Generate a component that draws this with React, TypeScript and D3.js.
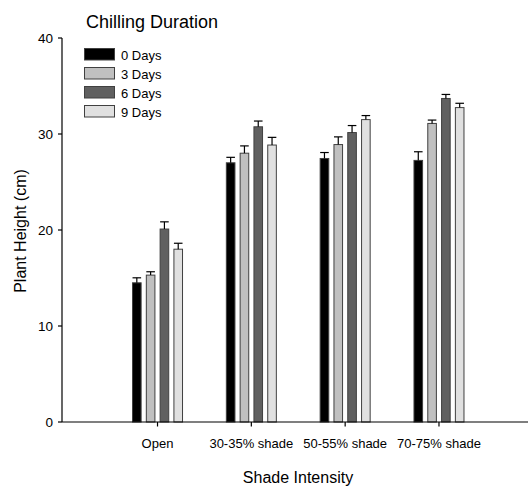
import React from "react";
import * as d3 from "d3";

const categories = ["Open", "30-35% shade", "50-55% shade", "70-75% shade"];
const seriesNames = ["0 Days", "3 Days", "6 Days", "9 Days"];
const days0 = [14.5, 27.0, 27.45, 27.25];
const days3 = [15.3, 28.0, 28.9, 31.1];
const days6 = [20.1, 30.75, 30.15, 33.7];
const days9 = [18.0, 28.85, 31.5, 32.75];
const err0 = [0.52, 0.57, 0.62, 0.9];
const err3 = [0.35, 0.76, 0.8, 0.35];
const err6 = [0.75, 0.6, 0.73, 0.42];
const err9 = [0.62, 0.8, 0.42, 0.45];
const yTicks = [0, 10, 20, 30, 40];
const fills = ["#000000", "#c0c0c0", "#606060", "#e0e0e0"];

const values = [days0, days3, days6, days9];
const errors = [err0, err3, err6, err9];

const FONT = "'Liberation Sans', Arial, Helvetica, sans-serif";

export default function App() {
  const W = 528;
  const H = 488;
  const x = d3.scaleLinear().domain([0, 5]).range([63.7, 532.8]);
  const y = d3.scaleLinear().domain([0, 40]).range([422, 38]);
  const pitch = 13.8;
  const bw = 8.6;
  const offsets = seriesNames.map((_, i) => (i - 1.5) * pitch);

  return (
    <svg
      width={W}
      height={H}
      style={{ position: "absolute", left: 0, top: 0, background: "#fff" }}
      fontFamily={FONT}
    >
      <rect x={0} y={0} width={W} height={H} fill="#fff" />
      {/* title */}
      <text x={86} y={28} fontSize={18} fill="#000">Chilling Duration</text>

      {/* legend */}
      {seriesNames.map((s, i) => {
        const ly = 48.5 + i * 19;
        return (
          <g key={s}>
            <rect x={84.5} y={ly} width={30} height={11.5} fill={fills[i]} stroke="#404040" strokeWidth={1} />
            <text x={121} y={ly + 11.5} fontSize={13} fill="#000">{s}</text>
          </g>
        );
      })}

      {/* bars */}
      {categories.map((c, ci) => (
        <g key={c}>
          {values.map((vals, si) => {
            const cx = x(ci + 1) + offsets[si];
            const v = vals[ci];
            const e = errors[si][ci];
            return (
              <g key={si}>
                <rect
                  x={cx - bw / 2}
                  y={y(v)}
                  width={bw}
                  height={y(0) - y(v)}
                  fill={fills[si]}
                  stroke="#404040"
                  strokeWidth={1}
                />
                <line x1={cx} x2={cx} y1={y(v)} y2={y(v + e)} stroke="#000" strokeWidth={1.2} />
                <line x1={cx - bw / 2} x2={cx + bw / 2} y1={y(v + e)} y2={y(v + e)} stroke="#000" strokeWidth={1.2} />
              </g>
            );
          })}
        </g>
      ))}

      {/* y axis */}
      <line x1={62} x2={62} y1={y(40)} y2={y(0)} stroke="#000" strokeWidth={1.2} />
      {yTicks.map((t) => (
        <g key={t}>
          <line x1={58} x2={62} y1={y(t)} y2={y(t)} stroke="#000" strokeWidth={1.2} />
          <text x={53} y={y(t) + 5} fontSize={13.5} textAnchor="end" fill="#000">{t}</text>
        </g>
      ))}

      {/* x axis */}
      <line x1={62} x2={528} y1={y(0)} y2={y(0)} stroke="#000" strokeWidth={1.2} />
      {categories.map((c, ci) => (
        <g key={c}>
          <line x1={x(ci + 1)} x2={x(ci + 1)} y1={y(0)} y2={y(0) + 4.5} stroke="#000" strokeWidth={1.2} />
          <text x={x(ci + 1)} y={448} fontSize={13} textAnchor="middle" fill="#000">{c}</text>
        </g>
      ))}

      {/* axis titles */}
      <text x={298} y={483} fontSize={16} textAnchor="middle" fill="#000">Shade Intensity</text>
      <text
        transform={`translate(25.5, 231) rotate(-90)`}
        fontSize={16}
        textAnchor="middle"
        fill="#000"
      >
        Plant Height (cm)
      </text>
    </svg>
  );
}
